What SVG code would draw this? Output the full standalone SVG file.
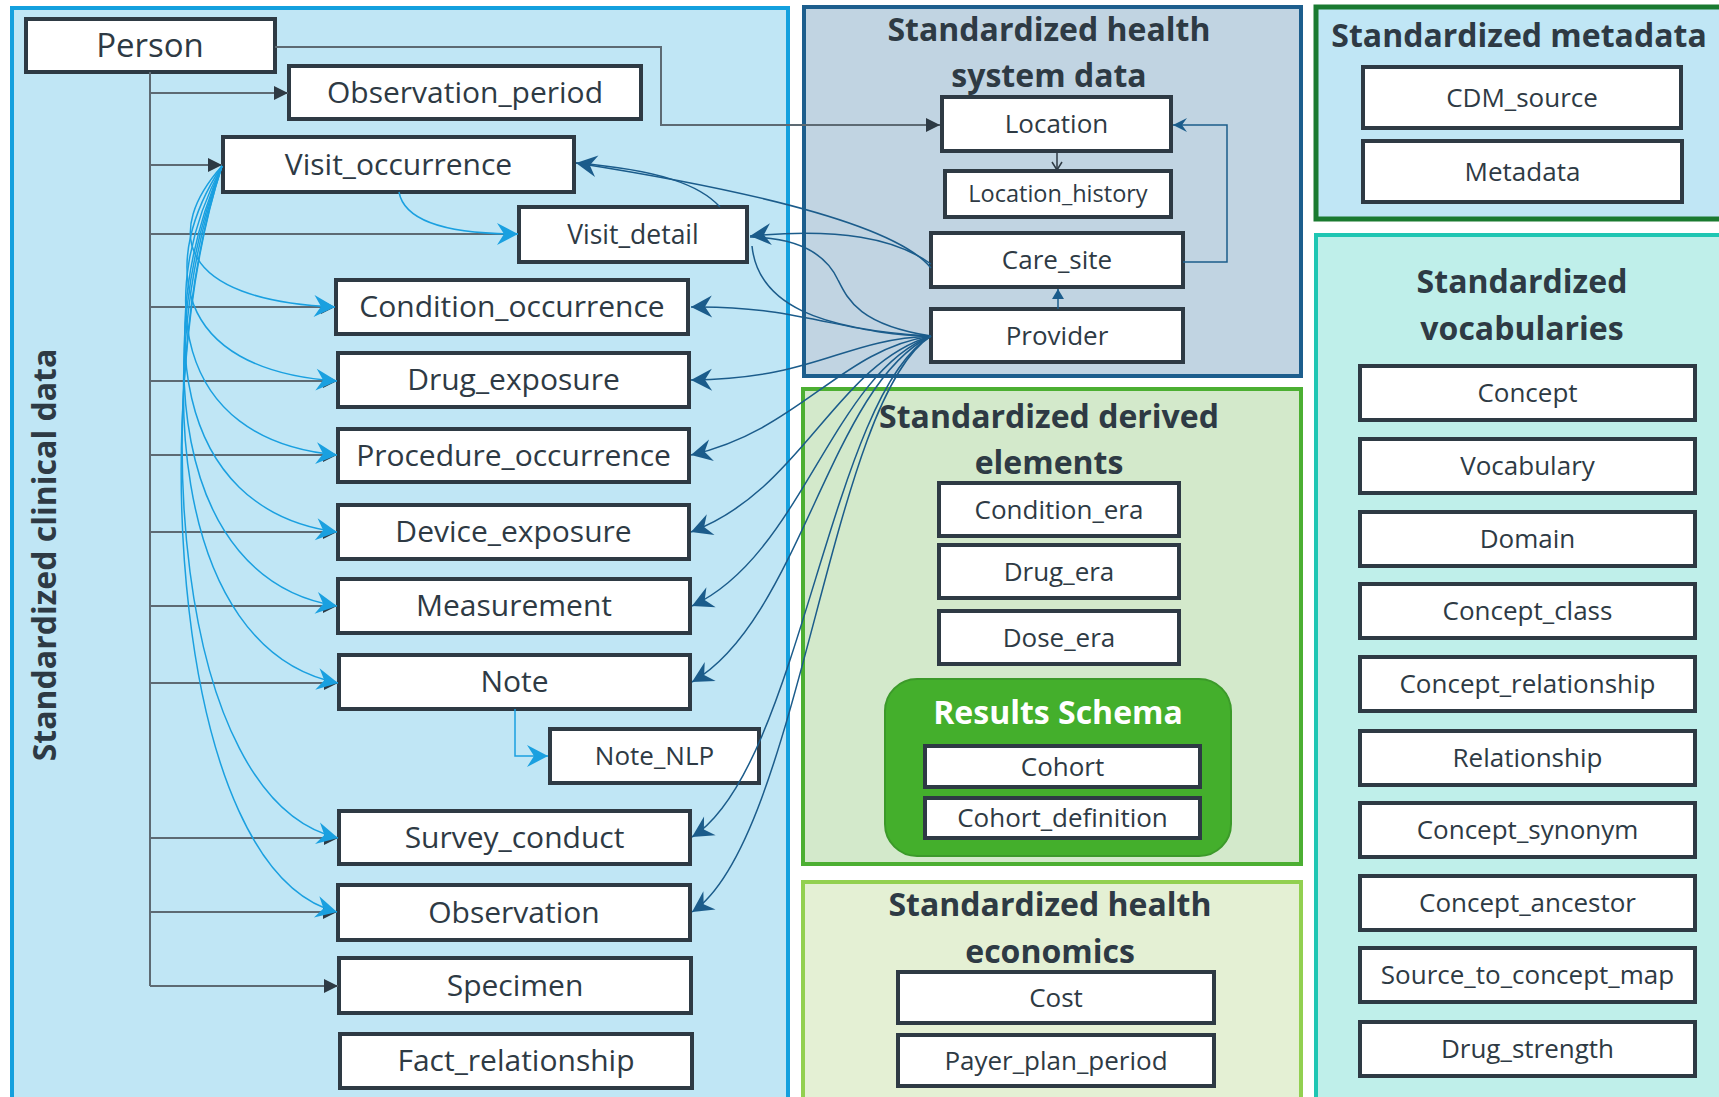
<svg xmlns="http://www.w3.org/2000/svg" width="1719" height="1097" viewBox="0 0 1719 1097">
<style>
.nd rect{fill:#fff;stroke:#2E3A44;stroke-width:4}
.t{font-family:"Open Sans","Liberation Sans",sans-serif;fill:#2E3A44;text-anchor:middle}
.c{font-size:30px}
.s{font-size:26px}
.b{font-weight:700;font-size:32px}
.pl{stroke:#5D6A73;stroke-width:2;fill:none}
.lb{stroke:#1AA0E0;stroke-width:1.5;fill:none}
.db{stroke:#1B5C8B;stroke-width:1.5;fill:none}
</style>
<defs>
<marker id="mTri" viewBox="-15 -8 16 16" refX="0" refY="0" markerWidth="16" markerHeight="16" markerUnits="userSpaceOnUse" orient="auto"><path d="M0,0 L-14,-7 L-14,7 Z" fill="#2E3A44"/></marker>
<marker id="mLB" viewBox="-24 -12 25 24" refX="0" refY="0" markerWidth="25" markerHeight="24" markerUnits="userSpaceOnUse" orient="auto"><path d="M0,0 L-21,-11 L-14,0 L-21,11 Z" fill="#1AA0E0"/></marker>
<marker id="mDB" viewBox="-24 -12 25 24" refX="0" refY="0" markerWidth="25" markerHeight="24" markerUnits="userSpaceOnUse" orient="auto"><path d="M0,0 L-21,-11 L-14,0 L-21,11 Z" fill="#1B5C8B"/></marker>
<marker id="mDBs" viewBox="-16 -8 17 16" refX="0" refY="0" markerWidth="17" markerHeight="16" markerUnits="userSpaceOnUse" orient="auto"><path d="M0,0 L-14,-7 L-9,0 L-14,7 Z" fill="#1B5C8B"/></marker>
<marker id="mDBt" viewBox="-11 -7 12 14" refX="0" refY="0" markerWidth="12" markerHeight="14" markerUnits="userSpaceOnUse" orient="auto"><path d="M0,0 L-10,-6 L-10,6 Z" fill="#1B5C8B"/></marker>
<marker id="mV" viewBox="-10 -7 11 14" refX="0" refY="0" markerWidth="11" markerHeight="14" markerUnits="userSpaceOnUse" orient="auto"><path d="M-8,-5 L0,0 L-8,5" stroke="#2E3A44" stroke-width="1.5" fill="none"/></marker>
</defs>
<rect width="1719" height="1097" fill="#fff"/>
<g id="panels">
<rect x="12" y="8" width="776" height="1140" fill="#C0E6F5" stroke="#14A0DE" stroke-width="4"/>
<rect x="804" y="7" width="497" height="369" fill="#C1D4E2" stroke="#1D5E8D" stroke-width="4"/>
<rect x="1316" y="7" width="420" height="212" fill="#C0E6F5" stroke="#1A7A30" stroke-width="5"/>
<rect x="1316" y="235" width="420" height="900" fill="#BFEFEA" stroke="#1FC6B3" stroke-width="4"/>
<rect x="803" y="389" width="498" height="475" fill="#D3E9CB" stroke="#4CAF32" stroke-width="4"/>
<rect x="803" y="882" width="498" height="260" fill="#E4F0D4" stroke="#92D050" stroke-width="4"/>
<rect x="885" y="679" width="346" height="177" rx="32" fill="#44AF2C" stroke="#3C9A2A" stroke-width="2"/>
</g>
<g id="titles">
<text class="t b" transform="translate(56,555) rotate(-90)" x="0" y="0">Standardized clinical data</text>
<text class="t b" x="1049" y="41">Standardized health</text>
<text class="t b" x="1049" y="87">system data</text>
<text class="t b" x="1519" y="47">Standardized metadata</text>
<text class="t b" x="1522" y="293">Standardized</text>
<text class="t b" x="1522" y="340">vocabularies</text>
<text class="t b" x="1049" y="428">Standardized derived</text>
<text class="t b" x="1049" y="474">elements</text>
<text class="t b" x="1050" y="916">Standardized health</text>
<text class="t b" x="1050" y="963">economics</text>
<text class="t b" x="1058" y="724" style="fill:#fff">Results Schema</text>
</g>
<g id="person" class="nd"><rect x="26" y="19" width="249" height="53"/><text class="t" style="font-size:33px" x="150" y="57">Person</text></g>
<g id="observation_period" class="nd"><rect x="289" y="66" width="352" height="53"/><text class="t c" x="465" y="103">Observation_period</text></g>
<g id="visit_occurrence" class="nd"><rect x="223" y="137" width="351" height="55"/><text class="t c" x="398.5" y="175">Visit_occurrence</text></g>
<g id="visit_detail" class="nd"><rect x="519" y="207" width="228" height="55"/><text class="t" style="font-size:26.5px" x="633" y="244">Visit_detail</text></g>
<g id="condition_occurrence" class="nd"><rect x="336" y="280" width="352" height="54"/><text class="t c" x="512" y="317">Condition_occurrence</text></g>
<g id="drug_exposure" class="nd"><rect x="338" y="353" width="351" height="54"/><text class="t c" x="513.5" y="390">Drug_exposure</text></g>
<g id="procedure_occurrence" class="nd"><rect x="338" y="429" width="351" height="53"/><text class="t c" x="513.5" y="466">Procedure_occurrence</text></g>
<g id="device_exposure" class="nd"><rect x="338" y="505" width="351" height="54"/><text class="t c" x="513.5" y="542">Device_exposure</text></g>
<g id="measurement" class="nd"><rect x="338" y="579" width="352" height="54"/><text class="t c" x="514" y="616">Measurement</text></g>
<g id="note" class="nd"><rect x="339" y="655" width="351" height="54"/><text class="t c" x="514.5" y="692">Note</text></g>
<g id="note_nlp" class="nd"><rect x="550" y="729" width="209" height="54"/><text class="t" style="font-size:26px" x="654.5" y="765">Note_NLP</text></g>
<g id="survey_conduct" class="nd"><rect x="339" y="811" width="351" height="53"/><text class="t c" x="514.5" y="848">Survey_conduct</text></g>
<g id="observation" class="nd"><rect x="338" y="885" width="352" height="55"/><text class="t c" x="514" y="923">Observation</text></g>
<g id="specimen" class="nd"><rect x="339" y="958" width="352" height="55"/><text class="t c" x="515" y="996">Specimen</text></g>
<g id="fact_relationship" class="nd"><rect x="340" y="1034" width="352" height="54"/><text class="t c" x="516" y="1071">Fact_relationship</text></g>
<g id="location" class="nd"><rect x="942" y="97" width="229" height="54"/><text class="t s" x="1056.5" y="133">Location</text></g>
<g id="location_history" class="nd"><rect x="945" y="171" width="226" height="46"/><text class="t" style="font-size:23.5px" x="1058" y="202">Location_history</text></g>
<g id="care_site" class="nd"><rect x="931" y="233" width="252" height="54"/><text class="t s" x="1057" y="269">Care_site</text></g>
<g id="provider" class="nd"><rect x="931" y="309" width="252" height="53"/><text class="t s" x="1057" y="344.5">Provider</text></g>
<g id="cdm_source" class="nd"><rect x="1363" y="67" width="318" height="61"/><text class="t s" x="1522" y="106.5">CDM_source</text></g>
<g id="metadata" class="nd"><rect x="1363" y="141" width="319" height="61"/><text class="t s" x="1522.5" y="180.5">Metadata</text></g>
<g id="concept" class="nd"><rect x="1360" y="366" width="335" height="54"/><text class="t s" x="1527.5" y="402">Concept</text></g>
<g id="vocabulary" class="nd"><rect x="1360" y="439" width="335" height="54"/><text class="t s" x="1527.5" y="475">Vocabulary</text></g>
<g id="domain" class="nd"><rect x="1360" y="512" width="335" height="54"/><text class="t s" x="1527.5" y="548">Domain</text></g>
<g id="concept_class" class="nd"><rect x="1360" y="584" width="335" height="54"/><text class="t s" x="1527.5" y="620">Concept_class</text></g>
<g id="concept_relationship" class="nd"><rect x="1360" y="657" width="335" height="54"/><text class="t s" x="1527.5" y="693">Concept_relationship</text></g>
<g id="relationship" class="nd"><rect x="1360" y="731" width="335" height="54"/><text class="t s" x="1527.5" y="767">Relationship</text></g>
<g id="concept_synonym" class="nd"><rect x="1360" y="803" width="335" height="54"/><text class="t s" x="1527.5" y="839">Concept_synonym</text></g>
<g id="concept_ancestor" class="nd"><rect x="1360" y="876" width="335" height="54"/><text class="t s" x="1527.5" y="912">Concept_ancestor</text></g>
<g id="source_to_concept_map" class="nd"><rect x="1360" y="948" width="335" height="54"/><text class="t s" x="1527.5" y="984">Source_to_concept_map</text></g>
<g id="drug_strength" class="nd"><rect x="1360" y="1022" width="335" height="54"/><text class="t s" x="1527.5" y="1058">Drug_strength</text></g>
<g id="condition_era" class="nd"><rect x="939" y="483" width="240" height="53"/><text class="t s" x="1059" y="518.5">Condition_era</text></g>
<g id="drug_era" class="nd"><rect x="939" y="545" width="240" height="53"/><text class="t s" x="1059" y="580.5">Drug_era</text></g>
<g id="dose_era" class="nd"><rect x="939" y="611" width="240" height="53"/><text class="t s" x="1059" y="646.5">Dose_era</text></g>
<g id="cohort" class="nd"><rect x="925" y="746" width="275" height="41"/><text class="t s" x="1062.5" y="775.5">Cohort</text></g>
<g id="cohort_definition" class="nd"><rect x="925" y="798" width="275" height="40"/><text class="t s" x="1062.5" y="827">Cohort_definition</text></g>
<g id="cost" class="nd"><rect x="898" y="972" width="316" height="51"/><text class="t s" x="1056" y="1006.5">Cost</text></g>
<g id="payer_plan_period" class="nd"><rect x="898" y="1035" width="316" height="51"/><text class="t s" x="1056" y="1069.5">Payer_plan_period</text></g>
<g id="connectors">
<path class="pl" d="M150,72 V986"/>
<path class="pl" d="M150,93 H288" marker-end="url(#mTri)"/>
<path class="pl" d="M150,165 H222" marker-end="url(#mTri)"/>
<path class="pl" d="M150,234 H518"/>
<path class="pl" d="M150,307 H335" marker-end="url(#mTri)"/>
<path class="pl" d="M150,381 H337" marker-end="url(#mTri)"/>
<path class="pl" d="M150,455 H337" marker-end="url(#mTri)"/>
<path class="pl" d="M150,532 H337" marker-end="url(#mTri)"/>
<path class="pl" d="M150,606 H337" marker-end="url(#mTri)"/>
<path class="pl" d="M150,683 H338" marker-end="url(#mTri)"/>
<path class="pl" d="M150,838 H338" marker-end="url(#mTri)"/>
<path class="pl" d="M150,912 H337" marker-end="url(#mTri)"/>
<path class="pl" d="M150,986 H338" marker-end="url(#mTri)"/>
<path class="pl" d="M275,47 H661 V125 H940" marker-end="url(#mTri)"/>
<path class="lb" d="M399,192 C405,225 460,234 518,234" marker-end="url(#mLB)"/>
<path class="lb" d="M222,166 C165,230 175,300 335,307" marker-end="url(#mLB)"/>
<path class="lb" d="M222,166 C160,260 170,370 337,381" marker-end="url(#mLB)"/>
<path class="lb" d="M222,166 C157,290 170,440 337,455" marker-end="url(#mLB)"/>
<path class="lb" d="M222,166 C155,320 170,510 337,532" marker-end="url(#mLB)"/>
<path class="lb" d="M222,166 C153,340 170,580 337,606" marker-end="url(#mLB)"/>
<path class="lb" d="M222,166 C152,360 170,650 338,683" marker-end="url(#mLB)"/>
<path class="lb" d="M222,166 C148,390 172,800 338,838" marker-end="url(#mLB)"/>
<path class="lb" d="M222,166 C146,400 172,870 337,912" marker-end="url(#mLB)"/>
<path class="lb" d="M515,709 V756 H548" marker-end="url(#mLB)"/>
<path class="db" d="M931,268 C900,230 780,195 576,163" marker-end="url(#mDB)"/>
<path class="db" d="M720,207 C700,185 660,170 576,163"/>
<path class="db" d="M931,264 C895,238 840,228 750,236" marker-end="url(#mDB)"/>
<path class="db" d="M931,336 C860,325 848,300 838,280 C826,254 800,238 750,237"/>
<path class="db" d="M931,336 C820,330 758,305 752,246"/>
<path class="db" d="M931,336 C850,336 800,305 691,307" marker-end="url(#mDB)"/>
<path class="db" d="M931,336 C840,340 820,378 691,380" marker-end="url(#mDB)"/>
<path class="db" d="M931,336 C840,350 800,430 691,455" marker-end="url(#mDB)"/>
<path class="db" d="M931,336 C835,365 803,490 691,532" marker-end="url(#mDB)"/>
<path class="db" d="M931,336 C832,375 802,555 692,606" marker-end="url(#mDB)"/>
<path class="db" d="M931,336 C830,385 800,620 692,682" marker-end="url(#mDB)"/>
<path class="db" d="M931,336 C830,395 800,770 692,837" marker-end="url(#mDB)"/>
<path class="db" d="M931,336 C830,400 800,840 692,912" marker-end="url(#mDB)"/>
<path class="db" d="M1183,262 H1227 V125 H1173" marker-end="url(#mDBs)"/>
<path class="db" d="M1058,309 V289" marker-end="url(#mDBt)"/>
<path class="pl" d="M1057,151 V170" style="stroke:#2E3A44;stroke-width:1.5" marker-end="url(#mV)"/>
</g>
</svg>
